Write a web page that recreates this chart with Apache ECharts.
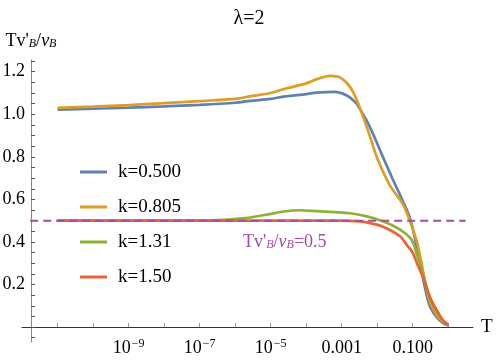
<!DOCTYPE html>
<html>
<head>
<meta charset="utf-8">
<script src="https://cdn.jsdelivr.net/npm/echarts@6/dist/echarts.min.js"></script>
<style>
html, body { margin: 0; padding: 0; background: #fff; }
#box { width: 498px; height: 360px; }
</style>
</head>
<body>
<div id="box"></div>
<script>
// values (T on a log axis)
var tBlue = [1e-11, 1e-10, 1e-9, 1e-8, 1e-7, 1e-6, 2.7e-6, 1e-5, 2.3e-5, 1e-4, 2e-4, 6.3e-4, 1.4e-3, 2.5e-3, 3.3e-3, 5e-3, 7.8e-3, 1.45e-2, 2.75e-2, 5.2e-2, 7.9e-2, 0.1, 0.132, 0.178, 0.219, 0.302, 0.479, 0.708, 1];
var vBlue = [1.022, 1.026, 1.031, 1.037, 1.044, 1.054, 1.063, 1.072, 1.083, 1.095, 1.102, 1.105, 1.088, 1.055, 1.024, 0.972, 0.905, 0.80, 0.695, 0.595, 0.525, 0.465, 0.37, 0.27, 0.19, 0.10, 0.045, 0.02, 0.008];

var tOrange = [1e-11, 1e-10, 1e-9, 1e-8, 1e-7, 1e-6, 2.7e-6, 1e-5, 2.3e-5, 1e-4, 2e-4, 4.7e-4, 9.1e-4, 1.7e-3, 2.7e-3, 4e-3, 6.3e-3, 1e-2, 2.3e-2, 5.2e-2, 8.3e-2, 0.132, 0.178, 0.219, 0.302, 0.479, 0.708, 1];
var vOrange = [1.03, 1.036, 1.043, 1.052, 1.062, 1.072, 1.085, 1.10, 1.118, 1.145, 1.165, 1.18, 1.172, 1.13, 1.065, 0.99, 0.895, 0.795, 0.665, 0.58, 0.50, 0.40, 0.30, 0.22, 0.12, 0.055, 0.025, 0.012];

var tGreen = [1e-11, 1e-9, 1e-7, 5e-7, 1e-6, 2.7e-6, 1e-5, 2.3e-5, 6.3e-5, 2e-4, 6.3e-4, 1.7e-3, 5.1e-3, 1.45e-2, 4.4e-2, 9.3e-2, 0.138, 0.195, 0.302, 0.479, 0.708, 1];
var vGreen = [0.5, 0.5, 0.501, 0.504, 0.508, 0.515, 0.532, 0.543, 0.549, 0.545, 0.54, 0.535, 0.52, 0.497, 0.458, 0.41, 0.33, 0.25, 0.14, 0.068, 0.03, 0.012];

var tRed = [1e-11, 1e-8, 1e-5, 1e-4, 1e-3, 2.5e-3, 5.1e-3, 1.45e-2, 4.4e-2, 6.9e-2, 0.1, 0.132, 0.195, 0.302, 0.479, 0.708, 1];
var vRed = [0.5, 0.5, 0.5, 0.5, 0.5, 0.498, 0.492, 0.472, 0.427, 0.385, 0.35, 0.30, 0.235, 0.143, 0.08, 0.033, 0.01];

var names = ['k=0.500', 'k=0.805', 'k=1.31', 'k=1.50'];
var colors = ['#5e81b5', '#e19c24', '#8fb032', '#eb6235'];

var tRef = [1.7e-12, 3.1];
var vRef = [0.5, 0.5];

var xLabelValues = [1e-9, 1e-7, 1e-5, 1e-3, 1e-1];
var xTickValues = [1e-11, 1e-10, 1e-9, 1e-8, 1e-7, 1e-6, 1e-5, 1e-4, 1e-3, 1e-2, 1e-1, 1];
var yLabelValues = [0.2, 0.4, 0.6, 0.8, 1.0, 1.2];
var yTickValues = [];
for (var i = -1; i <= 25; i++) yTickValues.push(+(i * 0.05).toFixed(2));

function pairs(t, v) {
    return t.map(function (x, i) { return [x, v[i]]; });
}

var FONT = '"Liberation Serif", "DejaVu Serif", serif';

var dom = document.getElementById('box');
var myChart = echarts.init(dom, null, {renderer: 'canvas'});

var series = [
    [tBlue, vBlue], [tOrange, vOrange], [tGreen, vGreen], [tRed, vRed]
].map(function (d, i) {
    return {
        name: names[i],
        type: 'line',
        data: pairs(d[0], d[1]),
        smooth: 0.3,
        showSymbol: false,
        lineStyle: {width: 2.7, color: colors[i]},
        itemStyle: {color: colors[i]},
        z: 2 + i
    };
});
series.push({
    name: 'ref',
    type: 'line',
    data: pairs(tRef, vRef),
    showSymbol: false,
    lineStyle: {width: 2, color: '#a64ca6', type: [8, 5]},
    z: 10
});

option = {
    animation: false,
    title: {
        text: 'λ=2',
        left: 'center',
        top: 4,
        textStyle: {fontFamily: FONT, fontSize: 20, fontWeight: 'normal', color: '#000'}
    },
    legend: {
        data: names,
        orient: 'vertical',
        left: 75,
        top: 157,
        icon: 'rect',
        itemWidth: 27,
        itemHeight: 3,
        itemGap: 15,
        textStyle: {fontFamily: FONT, fontSize: 19, lineHeight: 20, color: '#000', padding: [0, 0, 0, 6]}
    },
    grid: {left: 22, right: 25, top: 60, bottom: 18, containLabel: false, outerBoundsMode: 'none'},
    xAxis: {
        type: 'log',
        min: 1e-12,
        max: 5,
        name: 'T',
        nameLocation: 'end',
        nameGap: 8,
        nameTextStyle: {fontFamily: FONT, fontSize: 19, color: '#000', verticalAlign: 'middle'},
        axisLine: {onZero: true, lineStyle: {color: '#333', width: 1}},
        axisTick: {inside: true, length: 4, lineStyle: {color: '#999'}, customValues: xTickValues},
        splitLine: {show: false},
        axisLabel: {
            customValues: xLabelValues,
            margin: -4,
            fontFamily: FONT,
            color: '#000',
            formatter: function (v) {
                var e = Math.round(Math.log10(v));
                if (e <= -5) return '{b|10}{s|−' + (-e) + '}';
                return '{b|' + v.toFixed(3) + '}';
            },
            rich: {
                b: {fontFamily: FONT, fontSize: 18, lineHeight: 20, color: '#000'},
                s: {fontFamily: FONT, fontSize: 12, color: '#000', verticalAlign: 'top', padding: [0, 0, 0, 1]}
            }
        }
    },
    yAxis: {
        type: 'value',
        min: -0.07,
        max: 1.255,
        offset: -9,
        name: "{n|Tv'}{i|B}{n|/}{v|v}{i|B}",
        nameLocation: 'end',
        nameGap: 10,
        nameTextStyle: {
            align: 'center',
            rich: {
                n: {fontFamily: FONT, fontSize: 18, color: '#000'},
                v: {fontFamily: FONT, fontSize: 18, fontStyle: 'italic', color: '#000'},
                i: {fontFamily: FONT, fontSize: 12, fontStyle: 'italic', color: '#000', padding: [6, 0, 0, 0]}
            }
        },
        axisLine: {onZero: false, lineStyle: {color: '#888', width: 1}},
        axisTick: {inside: true, length: 4, lineStyle: {color: '#555'}, customValues: yTickValues},
        splitLine: {show: false},
        axisLabel: {
            customValues: yLabelValues,
            margin: 6,
            fontFamily: FONT,
            fontSize: 18,
            color: '#000',
            formatter: function (v) { return v.toFixed(1); }
        }
    },
    graphic: [{
        type: 'text',
        left: 243,
        top: 233,
        style: {
            text: "{n|Tv'}{i|B}{n|/}{v|v}{i|B}{n|=0.5}",
            rich: {
                n: {fontFamily: FONT, fontSize: 18, fill: '#a64ca6'},
                v: {fontFamily: FONT, fontSize: 18, fontStyle: 'italic', fill: '#a64ca6'},
                i: {fontFamily: FONT, fontSize: 12, fontStyle: 'italic', fill: '#a64ca6', padding: [6, 0, 0, 0]}
            }
        }
    }],
    series: series
};

if (option && typeof option === 'object') {
    myChart.setOption(option, true);
}
</script>
</body>
</html>
